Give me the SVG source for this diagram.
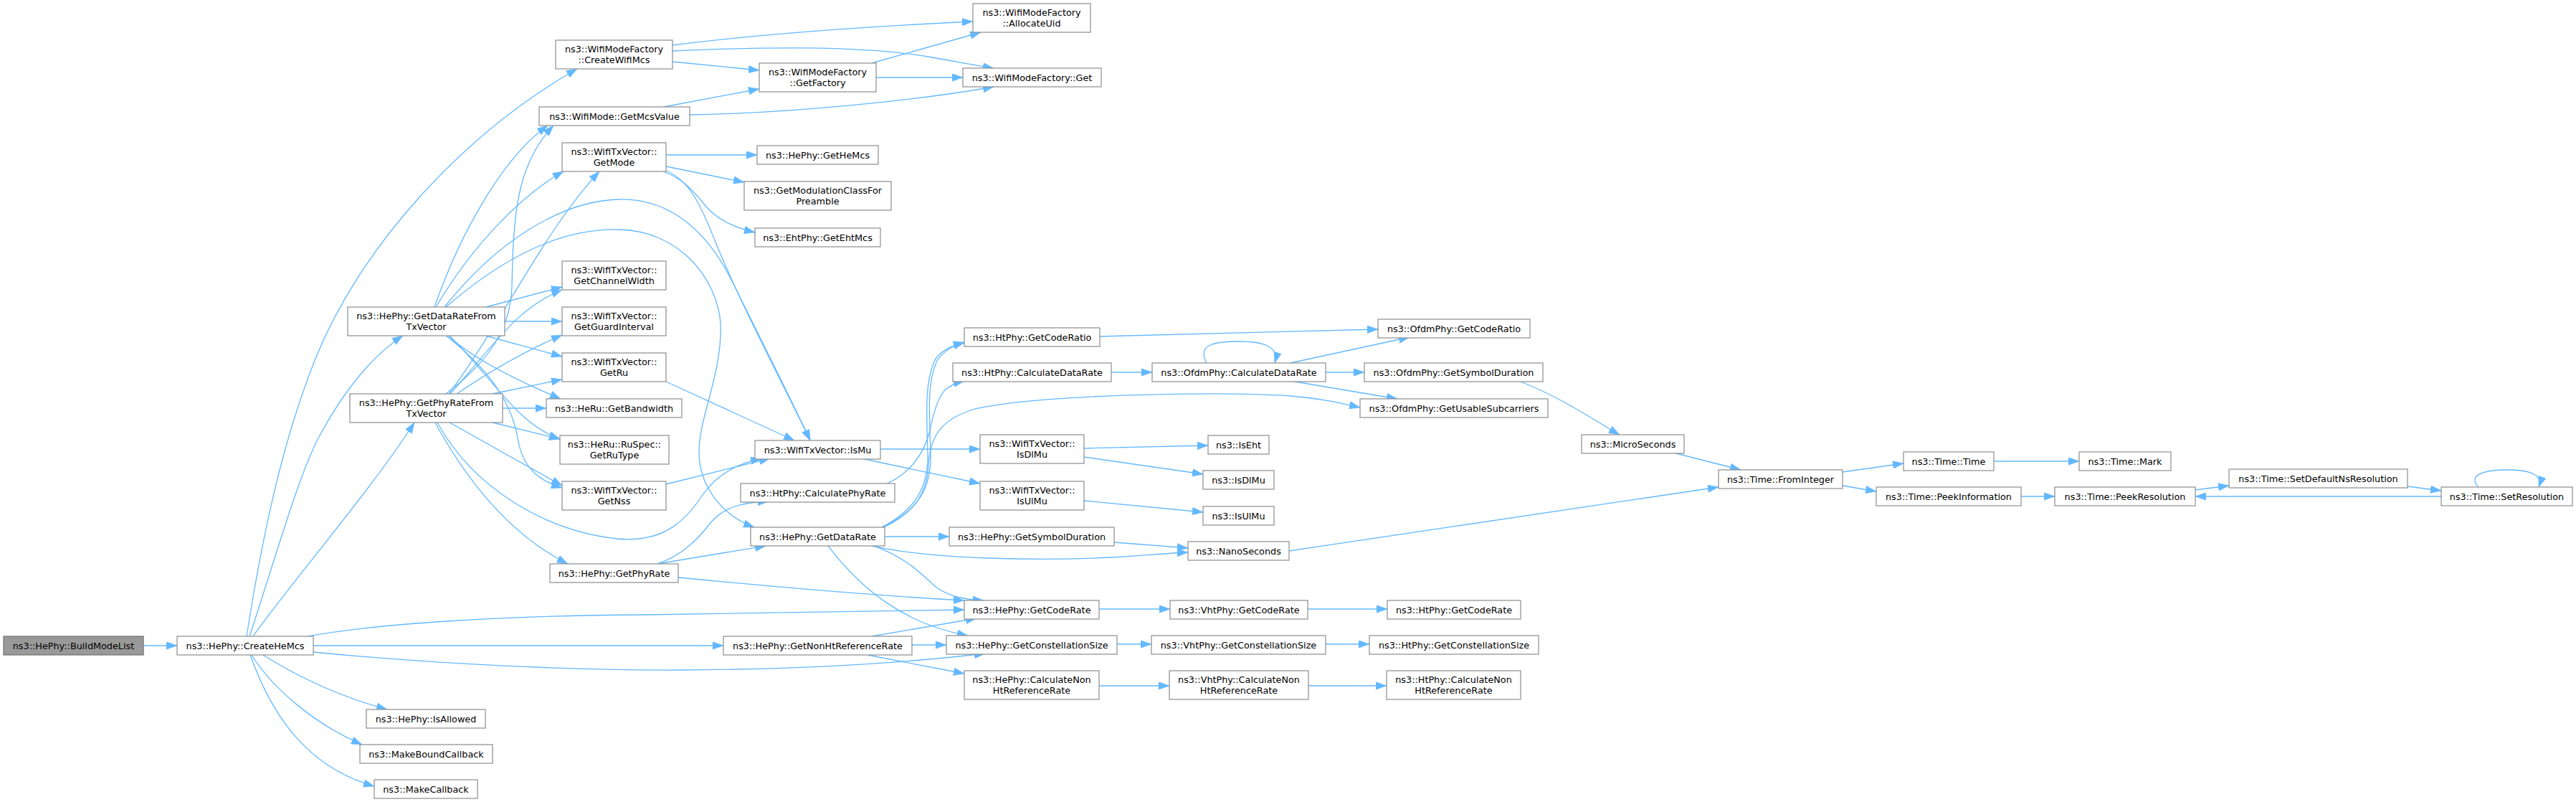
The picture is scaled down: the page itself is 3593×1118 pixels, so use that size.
<svg xmlns="http://www.w3.org/2000/svg" width="3593" height="1118" viewBox="0 0 3593 1118">
<style>
.n rect{fill:#fff;stroke:#8c8c8c;stroke-width:1.2}
.n.root rect{fill:#999;stroke:#707070}
.n text{font-family:"DejaVu Sans",Verdana,sans-serif;font-size:12.8px;text-anchor:middle;fill:#000}
#edges path{fill:none;stroke:#63b8ff;stroke-width:1.3;marker-end:url(#a)}
</style>
<defs>
<marker id="a" markerUnits="userSpaceOnUse" markerWidth="15" markerHeight="11" viewBox="0 0 14 10" refX="14" refY="5" orient="auto"><path d="M0,0L14,5L0,10z" fill="#63b8ff" stroke="#63b8ff" stroke-width="0.5"/></marker>
</defs>
<rect width="3593" height="1118" fill="#fff"/>
<g id="edges">
<path d="M200,900 L247,900"/>
<path d="M344,887 C370,720 400,600 440,500 C500,350 640,190 805,96"/>
<path d="M348,887 C390,760 420,650 450,600 C480,545 520,495 562,468"/>
<path d="M353,887 C400,820 520,680 578,589"/>
<path d="M430,887 C520,870 700,858 900,857 C1100,855 1250,851 1345,850"/>
<path d="M437,900 L1009,900"/>
<path d="M437,909 C600,925 800,935 950,934 C1150,933 1280,922 1374,911"/>
<path d="M367,913 C410,940 470,970 540,989"/>
<path d="M351,913 C380,960 440,1010 505,1038"/>
<path d="M349,913 C380,1000 430,1070 522,1096"/>
<path d="M606,428 C640,330 700,220 764,175"/>
<path d="M608,428 C660,340 730,270 786,239"/>
<path d="M620,428 C690,340 780,280 863,278 C940,276 990,330 1020,390 C1060,470 1110,570 1130,614"/>
<path d="M622,428 C700,360 780,318 863,320 C950,322 1000,390 1005,450 C1008,520 975,580 975,630 C975,680 1010,720 1052,735"/>
<path d="M678,428 L784,400"/>
<path d="M704,448 L784,448"/>
<path d="M677,468 L784,497"/>
<path d="M625,468 C660,500 720,530 782,556"/>
<path d="M627,468 C690,530 720,590 781,612"/>
<path d="M622,468 C690,520 715,570 722,610 C728,650 750,670 784,680"/>
<path d="M622,549 C680,505 712,460 714,400 C716,300 720,230 772,175"/>
<path d="M626,549 C700,450 760,320 836,239"/>
<path d="M628,549 C690,480 720,430 784,404"/>
<path d="M637,549 C680,520 730,490 784,467"/>
<path d="M687,549 L784,529"/>
<path d="M701,569 L762,569"/>
<path d="M687,589 L781,612"/>
<path d="M627,589 L784,677"/>
<path d="M607,589 C640,650 700,740 792,786"/>
<path d="M610,589 C660,680 760,740 860,751 C930,758 960,720 980,690 C1000,660 1030,646 1062,639"/>
<path d="M929,675 L1074,639"/>
<path d="M929,532 L1108,614"/>
<path d="M930,238 C960,252 975,280 995,330 C1035,430 1100,550 1130,614"/>
<path d="M929,216 L1056,216"/>
<path d="M929,232 L1038,254"/>
<path d="M925,239 C955,250 970,270 985,288 C1000,305 1020,316 1053,324"/>
<path d="M917,786 C950,775 975,750 990,730 C1010,705 1040,700 1072,699"/>
<path d="M917,786 L1068,761"/>
<path d="M946,805 C1100,820 1250,832 1345,837"/>
<path d="M938,63 C1080,45 1250,35 1357,30"/>
<path d="M938,71 C1050,66 1200,62 1300,80 C1340,87 1365,92 1386,95"/>
<path d="M938,86 L1059,98"/>
<path d="M926,149 L1059,124"/>
<path d="M962,160 C1100,158 1280,140 1386,121"/>
<path d="M1216,88 L1368,45"/>
<path d="M1222,108 L1343,108"/>
<path d="M1534,469 C1700,464 1820,461 1922,459"/>
<path d="M1550,519 L1607,519"/>
<path d="M1683,506 C1668,478 1700,476 1728,476 C1760,476 1785,482 1778,506"/>
<path d="M1800,506 L1966,470"/>
<path d="M1849,519 L1903,519"/>
<path d="M1800,531 L1949,556"/>
<path d="M1230,735 C1275,715 1292,690 1295,650 C1297,610 1310,585 1360,570 C1450,550 1700,545 1800,552 C1840,555 1870,562 1897,568"/>
<path d="M1237,674 C1270,660 1290,630 1297,600 C1303,570 1310,550 1320,542 C1328,536 1336,533 1345,531"/>
<path d="M1230,735 C1275,712 1296,680 1294,630 C1292,570 1290,530 1305,500 C1315,487 1330,481 1345,478"/>
<path d="M1233,735 C1280,712 1300,680 1298,630 C1296,570 1293,530 1308,501 C1318,488 1332,481 1345,477"/>
<path d="M1234,748 L1324,748"/>
<path d="M1216,761 C1300,780 1450,782 1550,777 C1600,774 1630,771 1657,770"/>
<path d="M1554,756 L1657,764"/>
<path d="M1219,761 C1265,778 1285,800 1305,818 C1325,833 1350,836 1372,837"/>
<path d="M1155,761 C1200,820 1260,870 1350,886"/>
<path d="M1228,626 L1367,626"/>
<path d="M1201,639 L1367,674"/>
<path d="M1512,625 L1685,621"/>
<path d="M1512,637 L1678,661"/>
<path d="M1512,698 L1678,714"/>
<path d="M1216,887 L1362,862"/>
<path d="M1272,899 L1320,899"/>
<path d="M1210,913 L1345,939"/>
<path d="M1533,849 L1632,849"/>
<path d="M1558,898 L1606,898"/>
<path d="M1533,956 L1631,956"/>
<path d="M1824,849 L1935,849"/>
<path d="M1849,898 L1910,898"/>
<path d="M1825,956 L1934,956"/>
<path d="M2121,532 C2180,555 2230,590 2259,606"/>
<path d="M2334,631 L2428,655"/>
<path d="M1798,768 L2397,679"/>
<path d="M2570,658 L2655,646"/>
<path d="M2570,677 L2617,685"/>
<path d="M2781,643 L2900,643"/>
<path d="M2819,692 L2866,692"/>
<path d="M3062,683 L3109,677"/>
<path d="M3358,678 L3405,684"/>
<path d="M3405,692 L3062,692"/>
<path d="M3457,679 C3440,660 3470,655 3497,655 C3525,655 3548,660 3541,679"/>
</g>
<g id="n1" class="n root"><rect x="5" y="887" width="195" height="26"/><text x="102.5" y="904.6">ns3::HePhy::BuildModeList</text></g>
<g id="n2" class="n"><rect x="247" y="887" width="190" height="26"/><text x="342" y="904.6">ns3::HePhy::CreateHeMcs</text></g>
<g id="n3" class="n"><rect x="775" y="56" width="163" height="40"/><text x="856.5" y="73.1">ns3::WifiModeFactory</text><text x="856.5" y="88.1">::CreateWifiMcs</text></g>
<g id="n4" class="n"><rect x="752" y="149" width="210" height="26"/><text x="857" y="166.6">ns3::WifiMode::GetMcsValue</text></g>
<g id="n5" class="n"><rect x="784" y="199" width="145" height="40"/><text x="856.5" y="216.1">ns3::WifiTxVector::</text><text x="856.5" y="231.1">GetMode</text></g>
<g id="n6" class="n"><rect x="784" y="364" width="145" height="40"/><text x="856.5" y="381.1">ns3::WifiTxVector::</text><text x="856.5" y="396.1">GetChannelWidth</text></g>
<g id="n7" class="n"><rect x="784" y="428" width="145" height="40"/><text x="856.5" y="445.1">ns3::WifiTxVector::</text><text x="856.5" y="460.1">GetGuardInterval</text></g>
<g id="n8" class="n"><rect x="784" y="492" width="145" height="40"/><text x="856.5" y="509.1">ns3::WifiTxVector::</text><text x="856.5" y="524.1">GetRu</text></g>
<g id="n9" class="n"><rect x="762" y="556" width="189" height="26"/><text x="856.5" y="573.6">ns3::HeRu::GetBandwidth</text></g>
<g id="n10" class="n"><rect x="781" y="607" width="152" height="40"/><text x="857" y="624.1">ns3::HeRu::RuSpec::</text><text x="857" y="639.1">GetRuType</text></g>
<g id="n11" class="n"><rect x="784" y="671" width="145" height="40"/><text x="856.5" y="688.1">ns3::WifiTxVector::</text><text x="856.5" y="703.1">GetNss</text></g>
<g id="n12" class="n"><rect x="767" y="786" width="179" height="26"/><text x="856.5" y="803.6">ns3::HePhy::GetPhyRate</text></g>
<g id="n13" class="n"><rect x="485" y="428" width="219" height="40"/><text x="594.5" y="445.1">ns3::HePhy::GetDataRateFrom</text><text x="594.5" y="460.1">TxVector</text></g>
<g id="n14" class="n"><rect x="488" y="549" width="213" height="40"/><text x="594.5" y="566.1">ns3::HePhy::GetPhyRateFrom</text><text x="594.5" y="581.1">TxVector</text></g>
<g id="n15" class="n"><rect x="511" y="989" width="166" height="26"/><text x="594" y="1006.6">ns3::HePhy::IsAllowed</text></g>
<g id="n16" class="n"><rect x="502" y="1038" width="185" height="26"/><text x="594.5" y="1055.6">ns3::MakeBoundCallback</text></g>
<g id="n17" class="n"><rect x="522" y="1087" width="144" height="26"/><text x="594" y="1104.6">ns3::MakeCallback</text></g>
<g id="n18" class="n"><rect x="1357" y="5" width="164" height="40"/><text x="1439" y="22.1">ns3::WifiModeFactory</text><text x="1439" y="37.1">::AllocateUid</text></g>
<g id="n19" class="n"><rect x="1059" y="88" width="163" height="40"/><text x="1140.5" y="105.1">ns3::WifiModeFactory</text><text x="1140.5" y="120.1">::GetFactory</text></g>
<g id="n20" class="n"><rect x="1343" y="95" width="193" height="26"/><text x="1439.5" y="112.6">ns3::WifiModeFactory::Get</text></g>
<g id="n21" class="n"><rect x="1056" y="203" width="169" height="26"/><text x="1140.5" y="220.6">ns3::HePhy::GetHeMcs</text></g>
<g id="n22" class="n"><rect x="1038" y="253" width="205" height="40"/><text x="1140.5" y="270.1">ns3::GetModulationClassFor</text><text x="1140.5" y="285.1">Preamble</text></g>
<g id="n23" class="n"><rect x="1053" y="318" width="175" height="26"/><text x="1140.5" y="335.6">ns3::EhtPhy::GetEhtMcs</text></g>
<g id="n24" class="n"><rect x="1345" y="457" width="189" height="26"/><text x="1439.5" y="474.6">ns3::HtPhy::GetCodeRatio</text></g>
<g id="n25" class="n"><rect x="1329" y="506" width="221" height="26"/><text x="1439.5" y="523.6">ns3::HtPhy::CalculateDataRate</text></g>
<g id="n26" class="n"><rect x="1607" y="506" width="242" height="26"/><text x="1728" y="523.6">ns3::OfdmPhy::CalculateDataRate</text></g>
<g id="n27" class="n"><rect x="1053" y="614" width="175" height="26"/><text x="1140.5" y="631.6">ns3::WifiTxVector::IsMu</text></g>
<g id="n28" class="n"><rect x="1367" y="606" width="145" height="40"/><text x="1439.5" y="623.1">ns3::WifiTxVector::</text><text x="1439.5" y="638.1">IsDlMu</text></g>
<g id="n29" class="n"><rect x="1367" y="671" width="145" height="40"/><text x="1439.5" y="688.1">ns3::WifiTxVector::</text><text x="1439.5" y="703.1">IsUlMu</text></g>
<g id="n30" class="n"><rect x="1033" y="674" width="215" height="26"/><text x="1140.5" y="691.6">ns3::HtPhy::CalculatePhyRate</text></g>
<g id="n31" class="n"><rect x="1047" y="735" width="187" height="26"/><text x="1140.5" y="752.6">ns3::HePhy::GetDataRate</text></g>
<g id="n32" class="n"><rect x="1324" y="735" width="230" height="26"/><text x="1439" y="752.6">ns3::HePhy::GetSymbolDuration</text></g>
<g id="n33" class="n"><rect x="1685" y="607" width="85" height="26"/><text x="1727.5" y="624.6">ns3::IsEht</text></g>
<g id="n34" class="n"><rect x="1678" y="656" width="99" height="26"/><text x="1727.5" y="673.6">ns3::IsDlMu</text></g>
<g id="n35" class="n"><rect x="1678" y="706" width="99" height="26"/><text x="1727.5" y="723.6">ns3::IsUlMu</text></g>
<g id="n36" class="n"><rect x="1657" y="755" width="141" height="26"/><text x="1727.5" y="772.6">ns3::NanoSeconds</text></g>
<g id="n37" class="n"><rect x="1345" y="837" width="188" height="26"/><text x="1439" y="854.6">ns3::HePhy::GetCodeRate</text></g>
<g id="n38" class="n"><rect x="1009" y="887" width="263" height="26"/><text x="1140.5" y="904.6">ns3::HePhy::GetNonHtReferenceRate</text></g>
<g id="n39" class="n"><rect x="1320" y="886" width="238" height="26"/><text x="1439" y="903.6">ns3::HePhy::GetConstellationSize</text></g>
<g id="n40" class="n"><rect x="1345" y="935" width="188" height="40"/><text x="1439" y="952.1">ns3::HePhy::CalculateNon</text><text x="1439" y="967.1">HtReferenceRate</text></g>
<g id="n41" class="n"><rect x="1632" y="837" width="192" height="26"/><text x="1728" y="854.6">ns3::VhtPhy::GetCodeRate</text></g>
<g id="n42" class="n"><rect x="1606" y="886" width="243" height="26"/><text x="1727.5" y="903.6">ns3::VhtPhy::GetConstellationSize</text></g>
<g id="n43" class="n"><rect x="1631" y="935" width="194" height="40"/><text x="1728" y="952.1">ns3::VhtPhy::CalculateNon</text><text x="1728" y="967.1">HtReferenceRate</text></g>
<g id="n44" class="n"><rect x="1922" y="445" width="212" height="26"/><text x="2028" y="462.6">ns3::OfdmPhy::GetCodeRatio</text></g>
<g id="n45" class="n"><rect x="1903" y="506" width="249" height="26"/><text x="2027.5" y="523.6">ns3::OfdmPhy::GetSymbolDuration</text></g>
<g id="n46" class="n"><rect x="1897" y="556" width="262" height="26"/><text x="2028" y="573.6">ns3::OfdmPhy::GetUsableSubcarriers</text></g>
<g id="n47" class="n"><rect x="2206" y="606" width="143" height="26"/><text x="2277.5" y="623.6">ns3::MicroSeconds</text></g>
<g id="n48" class="n"><rect x="2397" y="655" width="173" height="26"/><text x="2483.5" y="672.6">ns3::Time::FromInteger</text></g>
<g id="n49" class="n"><rect x="2655" y="630" width="126" height="26"/><text x="2718" y="647.6">ns3::Time::Time</text></g>
<g id="n50" class="n"><rect x="2900" y="630" width="128" height="26"/><text x="2964" y="647.6">ns3::Time::Mark</text></g>
<g id="n51" class="n"><rect x="2617" y="679" width="202" height="26"/><text x="2718" y="696.6">ns3::Time::PeekInformation</text></g>
<g id="n52" class="n"><rect x="2866" y="679" width="196" height="26"/><text x="2964" y="696.6">ns3::Time::PeekResolution</text></g>
<g id="n53" class="n"><rect x="3109" y="654" width="249" height="26"/><text x="3233.5" y="671.6">ns3::Time::SetDefaultNsResolution</text></g>
<g id="n54" class="n"><rect x="3405" y="679" width="183" height="26"/><text x="3496.5" y="696.6">ns3::Time::SetResolution</text></g>
<g id="n55" class="n"><rect x="1935" y="837" width="186" height="26"/><text x="2028" y="854.6">ns3::HtPhy::GetCodeRate</text></g>
<g id="n56" class="n"><rect x="1910" y="886" width="236" height="26"/><text x="2028" y="903.6">ns3::HtPhy::GetConstellationSize</text></g>
<g id="n57" class="n"><rect x="1934" y="935" width="187" height="40"/><text x="2027.5" y="952.1">ns3::HtPhy::CalculateNon</text><text x="2027.5" y="967.1">HtReferenceRate</text></g>
</svg>
